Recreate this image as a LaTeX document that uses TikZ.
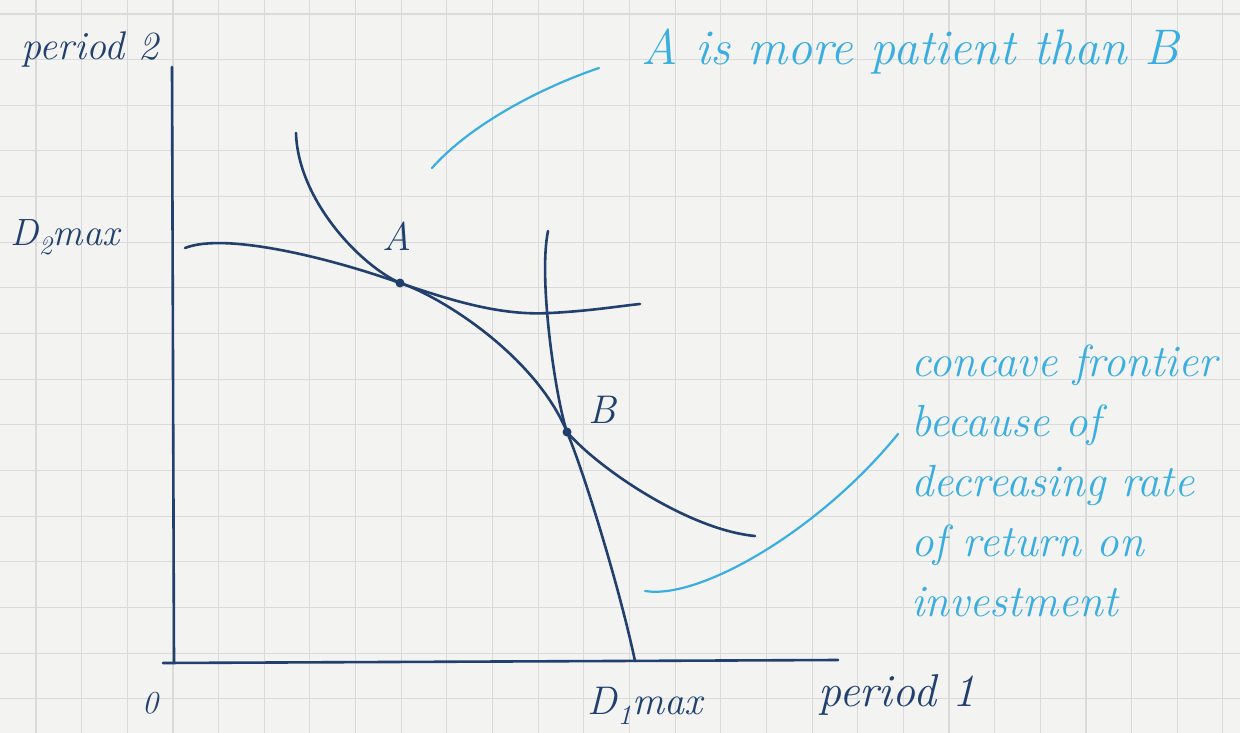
\documentclass[tikz,border=0pt]{standalone}
\usepackage{tikz}
\definecolor{ink}{HTML}{22406E}
\definecolor{pen}{HTML}{3AAEE0}
\definecolor{paper}{HTML}{F3F3F2}
\definecolor{rule}{HTML}{DADADA}

\begin{document}
\begin{tikzpicture}[x=1pt,y=-1pt,
  curve/.style={ink,line width=2.6pt,line cap=round,line join=round},
  note/.style={pen,line width=2.2pt,line cap=round,line join=round},
  hand/.style={inner sep=0pt,font=\itshape\fontsize{#1}{#1}\selectfont}]
  \useasboundingbox (0,0) rectangle (1240,733);
  % squared paper
  \fill[paper] (0,0) rectangle (1240,733);
  \foreach \k in {0,...,26}
    \draw[rule,line width=1.1pt] (36+45.65*\k,0)--++(0,733);
  \foreach \k in {0,...,15}
    \draw[rule,line width=1.1pt] (0,14+45.65*\k)--++(1240,0);
  % axes
  \coordinate (yTop) at (172,67);
  \coordinate (origin) at (174,663);
  \coordinate (xEnd) at (838,660);
  \draw[curve] (yTop) -- (origin);
  \draw[curve] (163,663) -- (xEnd);
  % tangency points
  \coordinate (ptA) at (400,283);
  \coordinate (ptB) at (567,432);
  % frontier
  \draw[curve] (185,248) .. controls (225,232) and (330,258) .. (ptA)
    .. controls (440,296) and (535,355) .. (ptB)
    .. controls (585,475) and (620,590) .. (635,661);
  % indifference curves
  \draw[curve] (296,133) .. controls (298,200) and (360,265) .. (ptA)
    .. controls (450,300) and (500,316) .. (550,313)
    .. controls (590,311) and (620,306) .. (640,304);
  \draw[curve] (548,231) .. controls (538,280) and (556,400) .. (ptB)
    .. controls (600,470) and (690,530) .. (755,536);
  \fill[ink] (ptA) circle (4.5pt);
  \fill[ink] (ptB) circle (4.5pt);
  % labels
  \node[hand=40,ink] (period2) at (90,50) {period 2};
  \node[hand=38,ink] (d2max) at (65,237) {D\textsubscript{2}max};
  \node[hand=40,ink] (labelA) at (397,236) {A};
  \node[hand=40,ink] (labelB) at (602,410) {B};
  \node[hand=32,ink] (zero) at (150,703) {0};
  \node[hand=40,ink] (d1max) at (645,706) {D\textsubscript{1}max};
  \node[hand=46,ink] (period1) at (897,695) {period 1};
  % notes
  \node[hand=50,pen] (patient) at (910,52) {A is more patient than B};
  \node[pen,inner sep=0pt,align=left,anchor=north west,
    font=\itshape\fontsize{45}{60}\selectfont] (concave) at (911,345)
    {concave frontier\\because of\\decreasing rate\\of return on\\investment};
  \coordinate (noteA) at (599,68);
  \coordinate (noteB) at (898,434);
  \draw[note] (432,168) .. controls (470,125) and (540,88) .. (noteA);
  \draw[note] (645,591) .. controls (700,600) and (820,530) .. (noteB);
\end{tikzpicture}
\end{document}
